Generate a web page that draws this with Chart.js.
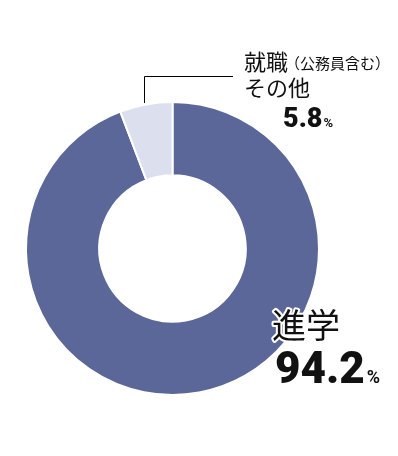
<!DOCTYPE html>
<html lang="ja">
<head>
<meta charset="UTF-8">
<title>進路状況</title>
<script src="https://cdn.jsdelivr.net/npm/chart.js"></script>
<style>
  html, body { margin: 0; padding: 0; background: #fff; }
  #wrap { width: 398px; height: 456px; position: relative; }
</style>
</head>
<body>
<div id="wrap"><canvas id="donut"></canvas></div>
<script>
// データ
const labels = ['進学', '就職（公務員含む）その他'];
const values = [94.2, 5.8];
const colors = ['#5a6798', '#dcdfed'];

const JP = '"Noto Sans CJK JP", "Noto Sans", sans-serif';
const NUM = 'Roboto, "Liberation Sans", sans-serif';

// ラベルと引き出し線を描く
const labelPlugin = {
  id: 'labels',
  afterDraw(chart) {
    const ctx = chart.ctx;
    ctx.save();
    ctx.textBaseline = 'alphabetic';
    ctx.textAlign = 'left';

    // 引き出し線
    ctx.strokeStyle = '#000';
    ctx.lineWidth = 1;
    ctx.beginPath();
    ctx.moveTo(144.5, 103);
    ctx.lineTo(144.5, 76.5);
    ctx.lineTo(233, 76.5);
    ctx.stroke();

    ctx.fillStyle = '#111';
    ctx.font = '22px ' + JP;
    ctx.fillText('就職', 244, 70);
    ctx.font = '15px ' + JP;
    ctx.fillText('（公務員含む）', 285, 69);
    ctx.font = '22px ' + JP;
    ctx.fillText('その他', 244, 96);

    ctx.font = '900 27px ' + NUM;
    ctx.fillText(values[1].toFixed(1), 283, 127);
    let w = ctx.measureText(values[1].toFixed(1)).width;
    ctx.font = 'bold 13px ' + NUM;
    ctx.fillText('%', 283 + w + 1, 127);

    // 進学（白フチ付き）
    ctx.font = '34px ' + JP;
    ctx.lineWidth = 4;
    ctx.lineJoin = 'round';
    ctx.strokeStyle = '#fff';
    ctx.strokeText(labels[0], 272, 338);
    ctx.fillText(labels[0], 272, 338);

    ctx.font = '900 44px ' + NUM;
    ctx.fillText(values[0].toFixed(1), 275, 383);
    w = ctx.measureText(values[0].toFixed(1)).width;
    ctx.font = 'bold 18px ' + NUM;
    ctx.fillText('%', 275 + w + 2, 383);
    ctx.restore();
  }
};

new Chart(document.getElementById('donut'), {
  type: 'doughnut',
  data: {
    labels: labels,
    datasets: [{
      data: values,
      backgroundColor: colors,
      borderColor: '#fff',
      borderWidth: 2
    }]
  },
  options: {
    responsive: true,
    maintainAspectRatio: false,
    animation: false,
    radius: 146.5,
    cutout: '50%',
    layout: { padding: { left: 0, right: 53, top: 41, bottom: 0 } },
    plugins: {
      legend: { display: false },
      tooltip: { enabled: false }
    }
  },
  plugins: [labelPlugin]
});
</script>
</body>
</html>
